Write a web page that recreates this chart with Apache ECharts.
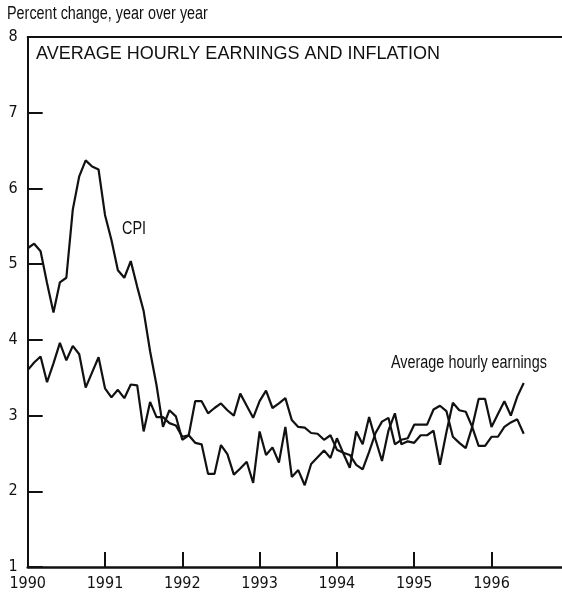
<!DOCTYPE html>
<html>
<head>
<meta charset="utf-8">
<script src="https://cdn.jsdelivr.net/npm/echarts@6/dist/echarts.min.js"></script>
<style>
html,body{margin:0;padding:0;background:#fff;}
#chart{width:562px;height:595px;}
</style>
</head>
<body>
<div id="chart"></div>
<script>
// Monthly data, Jan 1990 - Jun 1996 (percent change, year over year)
const startYear = 1990;
const cpi = [5.21,5.27,5.17,4.75,4.36,4.76,4.82,5.72,6.16,6.37,
             6.29,6.25,5.65,5.32,4.92,4.82,5.04,4.70,4.38,3.85,
             3.40,2.85,3.07,2.99,2.68,2.74,3.19,3.19,3.03,3.10,
             3.16,3.07,3.00,3.29,3.13,2.97,3.19,3.33,3.10,3.16,
             3.23,2.94,2.85,2.84,2.77,2.76,2.68,2.74,2.55,2.51,
             2.48,2.35,2.29,2.52,2.77,2.92,2.97,2.62,2.68,2.70,
             2.88,2.88,2.88,3.08,3.13,3.06,2.72,2.64,2.57,2.85,
             2.60,2.60,2.72,2.72,2.85,2.91,2.95,2.76];
const earnings = [3.60,3.70,3.78,3.44,3.69,3.96,3.73,3.92,3.81,3.37,
                  3.57,3.77,3.36,3.24,3.34,3.23,3.41,3.40,2.79,3.18,
                  2.98,2.98,2.90,2.87,2.72,2.74,2.64,2.62,2.23,2.23,
                  2.61,2.49,2.22,2.30,2.39,2.11,2.79,2.48,2.58,2.38,
                  2.85,2.19,2.28,2.08,2.36,2.45,2.54,2.44,2.70,2.50,
                  2.31,2.79,2.62,2.98,2.68,2.40,2.80,3.03,2.62,2.66,
                  2.64,2.74,2.74,2.80,2.35,2.78,3.17,3.07,3.05,2.85,
                  3.22,3.22,2.85,3.02,3.19,3.00,3.25,3.43];
const yearLabels = [1990,1991,1992,1993,1994,1995,1996];
const yearTicks = [1991,1992,1993,1994,1995,1996];

const toPairs = arr => arr.map((v,i) => [startYear + i/12, v]);

const ink = '#111';
const cond = '"DejaVu Sans Condensed", "Liberation Sans", sans-serif';
const sans = '"Liberation Sans", Arial, sans-serif';
const xMax = 1996.912;

function narrowText(text, x, y) {
  return {type: 'text', x: x, y: y, scaleX: 0.8, scaleY: 1,
          style: {text: text, x: 0, y: 0, fill: ink, fontSize: 18, fontFamily: sans, verticalAlign: 'top', align: 'left'}};
}

const chart = echarts.init(document.getElementById('chart'), null, {renderer:'canvas'});
chart.setOption({
  animation: false,
  backgroundColor: '#fff',
  grid: {left: 27.7, right: 0, top: 37, bottom: 28},
  xAxis: [{
    type: 'value', min: startYear, max: xMax, position: 'bottom',
    axisLine: {show: true, lineStyle: {color: ink, width: 2.5}},
    axisTick: {show: true, inside: true, length: 15, lineStyle: {color: ink, width: 2}, customValues: yearTicks},
    axisLabel: {show: true, customValues: yearLabels, color: ink, fontSize: 16, fontFamily: cond, margin: 9,
                formatter: v => String(Math.round(v))},
    splitLine: {show: false}
  },{
    type: 'value', min: startYear, max: xMax, position: 'top',
    axisLine: {show: true, lineStyle: {color: ink, width: 2}},
    axisTick: {show: false}, axisLabel: {show: false}, splitLine: {show: false}
  }],
  yAxis: {
    type: 'value', min: 1, max: 8, interval: 1,
    axisLine: {show: true, lineStyle: {color: ink, width: 2}},
    axisTick: {show: true, inside: true, length: 15, lineStyle: {color: ink, width: 2}},
    axisLabel: {color: ink, fontSize: 16, fontFamily: cond, margin: 10},
    splitLine: {show: false}
  },
  series: [{
    name: 'CPI', type: 'line', data: toPairs(cpi), showSymbol: false, symbol: 'none',
    lineStyle: {color: ink, width: 2.2}, xAxisIndex: 0
  },{
    name: 'Average hourly earnings', type: 'line', data: toPairs(earnings), showSymbol: false, symbol: 'none',
    lineStyle: {color: ink, width: 2.2}, xAxisIndex: 0
  }],
  graphic: [
    narrowText('Percent change, year over year', 7, 5),
    {type: 'text', x: 36, y: 45, style: {text: 'AVERAGE HOURLY EARNINGS AND INFLATION', x: 0, y: 0, fill: ink, fontSize: 18, fontFamily: sans, verticalAlign: 'top'}},
    narrowText('CPI', 122, 220),
    narrowText('Average hourly earnings', 391, 354)
  ]
});
</script>
</body>
</html>
